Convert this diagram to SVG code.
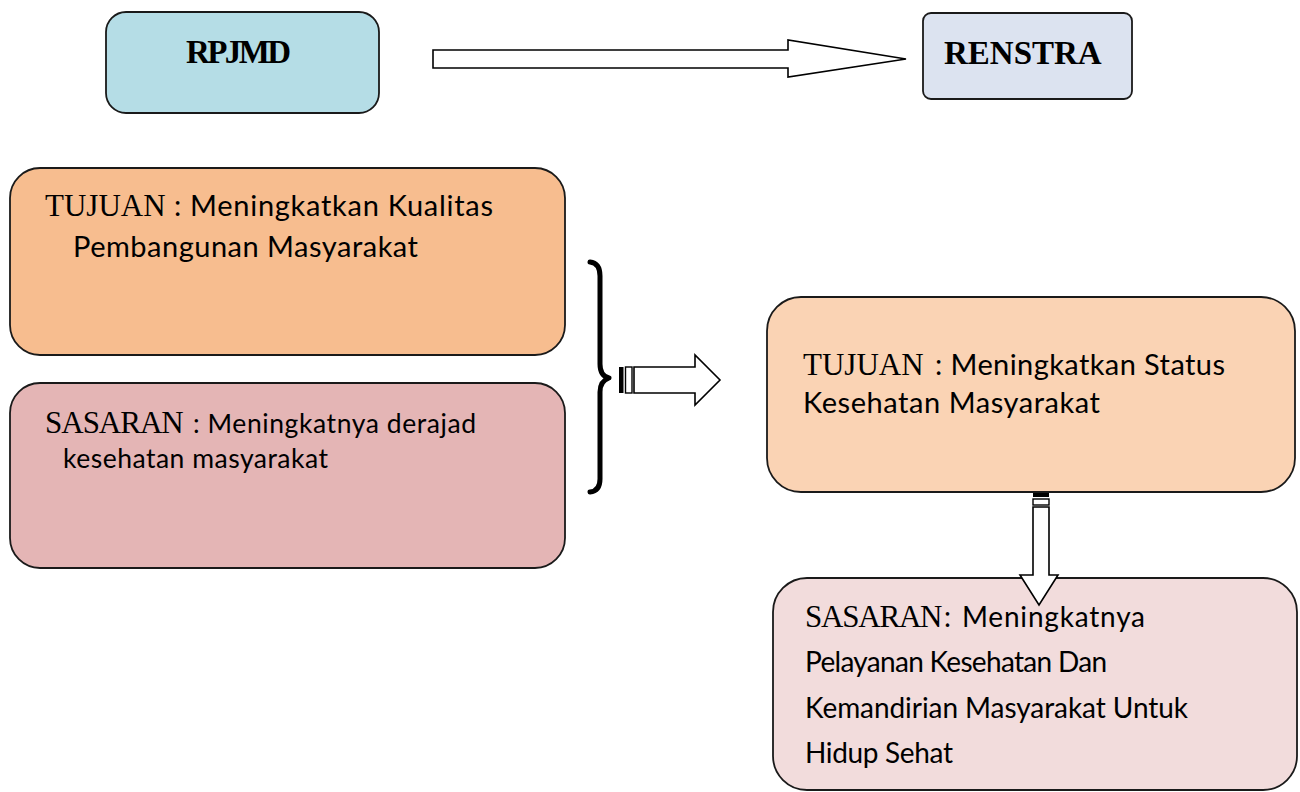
<svg xmlns="http://www.w3.org/2000/svg" width="1300" height="792" viewBox="0 0 1300 792">
  <style>
    .box { stroke: #1a1a1a; stroke-width: 1.8; }
    .head { font-family: "Liberation Serif", "Times New Roman", serif; font-weight: bold; font-size: 33px; fill: #000; }
    .serif { font-family: "Liberation Serif", "Times New Roman", serif; font-size: 31px; fill: #000; }
    .sans { font-family: Lato, "Noto Sans", sans-serif; fill: #000; }
    .big { font-size: 29px; }
    .mid { font-size: 26.5px; }
    .low { font-size: 28px; }
    .arrow { fill: #fff; stroke: #000; stroke-width: 1.6; stroke-linejoin: miter; }
    .brace { fill: none; stroke: #000; stroke-width: 5; stroke-linecap: round; stroke-linejoin: round; }
  </style>
  <rect width="1300" height="792" fill="#fff"/>

  <!-- top row -->
  <g id="rpjmd">
    <rect class="box" x="106" y="12" width="273" height="101" rx="20" fill="#b5dde6"/>
    <text class="head" x="186" y="63" letter-spacing="-2.6">RPJMD</text>
  </g>
  <g id="renstra">
    <rect class="box" x="923" y="13" width="209" height="86" rx="8" fill="#dce3f0"/>
    <text class="head" x="944" y="64">RENSTRA</text>
  </g>

  <!-- RPJMD column -->
  <g id="rpjmd-tujuan">
    <rect class="box" x="10" y="168" width="555" height="187" rx="30" fill="#f7bd8f"/>
    <text class="serif" x="45" y="216">TUJUAN</text>
    <text class="sans big" x="174" y="216" textLength="319" lengthAdjust="spacing">: Meningkatkan Kualitas</text>
    <text class="sans big" x="73" y="257" textLength="345" lengthAdjust="spacing">Pembangunan Masyarakat</text>
  </g>
  <g id="rpjmd-sasaran">
    <rect class="box" x="10" y="383" width="555" height="185" rx="30" fill="#e4b5b5"/>
    <text class="serif" x="45" y="433" letter-spacing="-1">SASARAN</text>
    <text class="sans mid" x="193" y="433" textLength="283" lengthAdjust="spacing">: Meningkatnya derajad</text>
    <text class="sans mid" x="63" y="468" textLength="265" lengthAdjust="spacing">kesehatan masyarakat</text>
  </g>

  <!-- RENSTRA column -->
  <g id="renstra-tujuan">
    <rect class="box" x="767" y="297" width="528" height="195" rx="34" fill="#fad3b4"/>
    <text class="serif" x="803" y="375">TUJUAN</text>
    <text class="sans big" x="935" y="375" textLength="290" lengthAdjust="spacing">: Meningkatkan Status</text>
    <text class="sans big" x="803" y="413" textLength="297" lengthAdjust="spacing">Kesehatan Masyarakat</text>
  </g>
  <g id="renstra-sasaran">
    <rect class="box" x="773" y="578" width="524" height="212" rx="34" fill="#f2dcdc"/>
    <text class="serif" x="805" y="627" letter-spacing="-1.2">SASARAN</text>
    <text class="sans low" x="944" y="627">:</text>
    <text class="sans low" x="962" y="627" textLength="183" lengthAdjust="spacing">Meningkatnya</text>
    <text class="sans low" x="805" y="672" textLength="302" lengthAdjust="spacing">Pelayanan Kesehatan Dan</text>
    <text class="sans low" x="805" y="718" textLength="383" lengthAdjust="spacing">Kemandirian Masyarakat Untuk</text>
    <text class="sans low" x="805" y="763" textLength="148" lengthAdjust="spacing">Hidup Sehat</text>
  </g>

  <!-- connectors -->
  <g id="connectors">
    <!-- RPJMD to RENSTRA -->
    <polygon class="arrow" points="433,50 788,50 788,40 906,59 788,77 788,68 433,68"/>
    <!-- brace grouping the two RPJMD boxes -->
    <path class="brace" d="M590,262 Q600,263 600,276 L600,364 Q600,376 609,378 Q600,381 600,392 L600,479 Q600,491 590,492"/>
    <!-- brace to RENSTRA tujuan -->
    <rect x="619" y="367" width="4.5" height="26" fill="#000"/>
    <rect x="625.5" y="367" width="6.5" height="26" fill="#fff" stroke="#000" stroke-width="1.4"/>
    <polygon class="arrow" points="634,367 695,367 695,355 720,380 695,405 695,393 634,393"/>
    <!-- RENSTRA tujuan to sasaran -->
    <rect x="1033" y="493" width="16" height="4" fill="#000"/>
    <rect x="1033" y="499" width="16" height="6" fill="#fff" stroke="#000" stroke-width="1.4"/>
    <polygon class="arrow" points="1033,507 1049,507 1049,575 1058,575 1039,605 1020,575 1033,575"/>
  </g>
</svg>
